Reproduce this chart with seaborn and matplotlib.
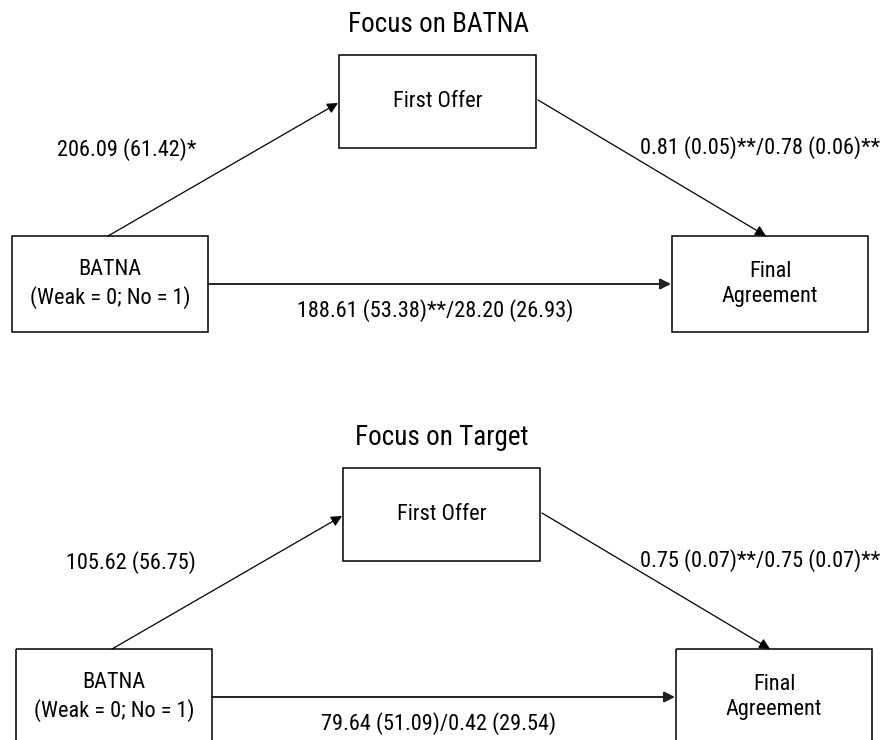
import matplotlib
matplotlib.use("Agg")
import matplotlib.pyplot as plt
from matplotlib import font_manager
from matplotlib.patches import Rectangle
import seaborn as sns

# Mediation model: BATNA -> First Offer -> Final Agreement
panel_titles = ["Focus on BATNA", "Focus on Target"]
predictor_label = "BATNA\n(Weak = 0; No = 1)"
mediator_label = "First Offer"
outcome_label = "Final\nAgreement"
path_a = ["206.09 (61.42)*", "105.62 (56.75)"]
path_b = ["0.81 (0.05)**/0.78 (0.06)**", "0.75 (0.07)**/0.75 (0.07)**"]
path_c = ["188.61 (53.38)**/28.20 (26.93)", "79.64 (51.09)/0.42 (29.54)"]

sns.set_theme(style="white")


# the original uses a condensed Helvetica; look for any narrow sans installed
def find_narrow_font():
    prefs = ['liberation sans narrow', 'roboto condensed', 'noto sans',
             'dejavu sans', 'open sans', 'arial narrow']
    found = []
    for f in font_manager.fontManager.ttflist:
        tag = (f.name + ' ' + f.fname).lower()
        narrow = ('narrow' in tag or 'condensed' in tag
                  or f.stretch in ('condensed', 'semi-condensed', 'extra-condensed'))
        if not narrow or f.style != 'normal':
            continue
        if f.weight not in (400, 'normal', 'regular', 'book'):
            continue
        if 'semi' in tag or 'extra' in tag or 'ultra' in tag:
            continue
        rank = next((i for i, p in enumerate(prefs) if p in tag), len(prefs))
        found.append((rank, f.fname))
    found.sort()
    return found[0][1] if found else None


narrow_path = find_narrow_font()
if narrow_path:
    base_font = font_manager.FontProperties(fname=narrow_path)
    scale = 1.0
else:
    base_font = font_manager.FontProperties(family=['Liberation Sans', 'DejaVu Sans'])
    scale = 0.86
plt.rcParams['font.family'] = ['Liberation Sans', 'DejaVu Sans']

box_fs = 16 * scale
title_fs = 19.5 * scale


def fp(size):
    p = base_font.copy()
    p.set_size(size)
    return p


fig = plt.figure(figsize=(8.84, 7.40), dpi=100)
ax = fig.add_axes([0, 0, 1, 1])
ax.set_xlim(0, 884)
ax.set_ylim(740, 0)
ax.axis('off')


def draw_box(x0, y0, x1, y1, label):
    ax.add_patch(Rectangle((x0, y0), x1 - x0, y1 - y0, fill=False,
                           edgecolor='black', lw=1.1))
    ax.text((x0 + x1) / 2, (y0 + y1) / 2, label, ha='center', va='center',
            multialignment='center', fontproperties=fp(box_fs),
            linespacing=1.3, color='black')


def draw_arrow(start, end, lw=0.9, color='black'):
    ax.annotate('', xy=end, xytext=start,
                arrowprops=dict(arrowstyle='-|>', color=color, lw=lw,
                                mutation_scale=16, shrinkA=0, shrinkB=0))


# layout of each panel (pixel coordinates, y pointing down)
offsets = [0, 413]
x_shift = [0, 4]

for i, (dy, dx) in enumerate(zip(offsets, x_shift)):
    ax.text(438 + dx, 32 + dy, panel_titles[i], ha='center', va='baseline',
            fontproperties=fp(title_fs), color='black')

    draw_box(339 + dx, 55 + dy, 536 + dx, 148 + dy, mediator_label)
    draw_box(12 + dx, 236 + dy, 208 + dx, 332 + dy, predictor_label)
    draw_box(672 + dx, 236 + dy, 868 + dx, 332 + dy, outcome_label)

    draw_arrow((108 + dx, 236 + dy), (338 + dx, 103 + dy))
    draw_arrow((538 + dx, 100 + dy), (766 + dx, 236 + dy))
    draw_arrow((208 + dx, 284 + dy), (671 + dx, 284 + dy), lw=1.4, color='#222222')

    ax.text(127 + dx, 150 + dy, path_a[i], ha='center', va='center',
            fontproperties=fp(box_fs), color='black')
    ax.text(880, 148 + dy, path_b[i], ha='right', va='center',
            fontproperties=fp(box_fs), color='black')
    ax.text(435 + dx, 311 + dy, path_c[i], ha='center', va='center',
            fontproperties=fp(box_fs), color='black')

plt.savefig('out.png', dpi=100)
